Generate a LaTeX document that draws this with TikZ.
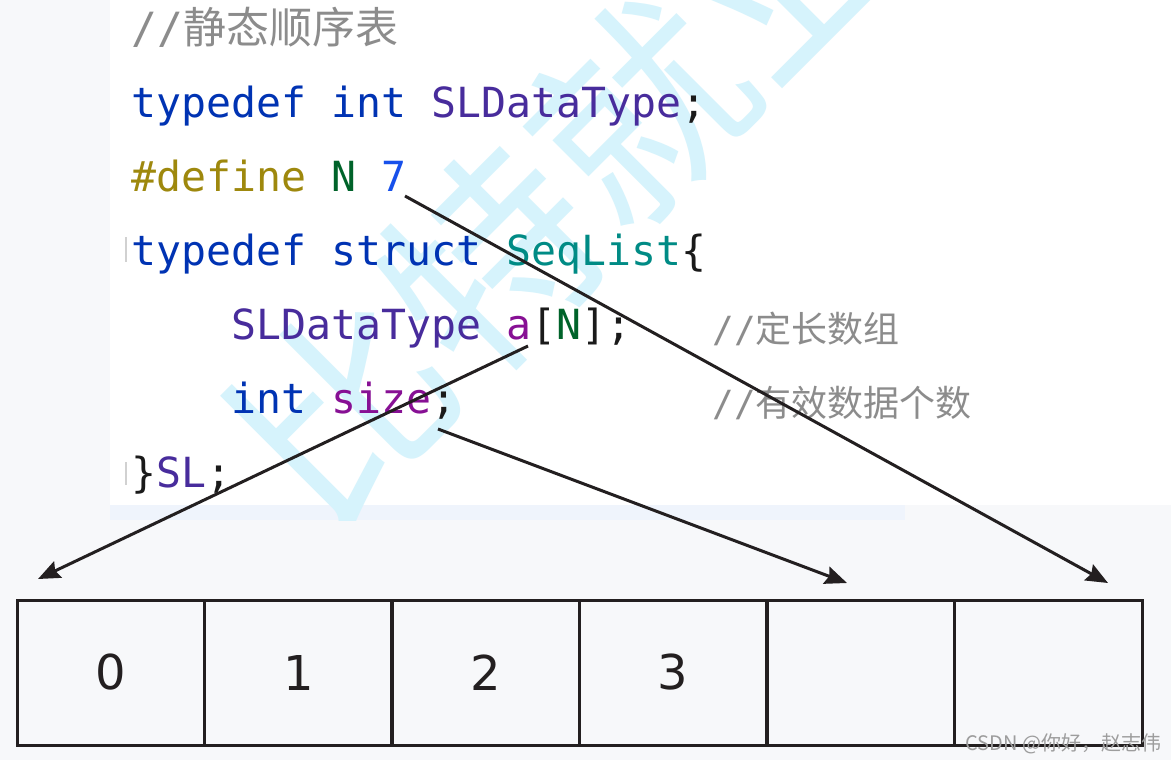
\documentclass[tikz,border=0pt]{standalone}
\usepackage{fontspec}
\setmainfont{DejaVu Sans}
\newfontfamily\codefont{DejaVu Sans Mono}
\newfontfamily\cjkfont{Noto Sans CJK SC}
\usetikzlibrary{arrows.meta}
\definecolor{kwblue}{HTML}{0033B3}
\definecolor{typepurple}{HTML}{482C9C}
\definecolor{macrogold}{HTML}{9E880D}
\definecolor{macrogreen}{HTML}{00632A}
\definecolor{numblue}{HTML}{1750EB}
\definecolor{seqteal}{HTML}{008B85}
\definecolor{fieldmag}{HTML}{871094}
\definecolor{cmtgray}{HTML}{8C8C8C}
\definecolor{wmblue}{HTML}{D6F3FC}
\definecolor{bggray}{HTML}{F7F8FA}
\definecolor{stripblue}{HTML}{EFF4FC}
\definecolor{ink}{HTML}{231F20}
\definecolor{codeblack}{HTML}{1A1A1A}
\tikzset{
  codeline/.style={anchor=base west, inner sep=0pt, text=codeblack,
    font=\codefont\fontsize{20.75pt}{24pt}\selectfont},
  topcmt/.style={anchor=base west, inner sep=0pt, text=cmtgray,
    font=\codefont\fontsize{21.5pt}{24pt}\selectfont},
  sidecmt/.style={anchor=base west, inner sep=0pt, text=cmtgray,
    font=\codefont\fontsize{18pt}{22pt}\selectfont},
  cell/.style={draw=ink, line width=1.5pt, minimum width=93.75pt, minimum height=72.5pt,
    inner sep=0pt, text=ink, font=\fontsize{24pt}{24pt}\selectfont},
  pointer/.style={draw=ink, line width=1.5pt, -{Stealth[length=11pt,width=9pt,inset=1.5pt]}},
}
\begin{document}
\begin{tikzpicture}[x=0.5pt,y=-0.5pt]
\useasboundingbox (0,0) rectangle (1171,760);
% backgrounds
\fill[bggray] (0,0) rectangle (1171,760);
\fill[white] (110,0) rectangle (1171,505);
\fill[stripblue] (110,505) rectangle (905,520);
\draw[cmtgray!40, line width=1pt] (126,237) -- (126,262);
\draw[cmtgray!40, line width=1pt] (126,462) -- (126,485);
% watermark
\begin{scope}
\clip (110,0) rectangle (1171,520);
\node[rotate=45, text=wmblue, inner sep=0pt,
  font=\cjkfont\fontsize{105pt}{105pt}\selectfont] (wm) at (565,185) {比特就业};
\end{scope}
% code
\node[topcmt] (l1) at (131,43) {//{\cjkfont 静态顺序表}};
\node[codeline] (l2) at (131,117) {\textcolor{kwblue}{typedef int} \textcolor{typepurple}{SLDataType};};
\node[codeline] (l3) at (131,191) {\textcolor{macrogold}{\#define} \textcolor{macrogreen}{N} \textcolor{numblue}{7}};
\node[codeline] (l4) at (131,265) {\textcolor{kwblue}{typedef struct} \textcolor{seqteal}{SeqList}\{};
\node[codeline] (l5) at (231,339) {\textcolor{typepurple}{SLDataType} \textcolor{fieldmag}{a}[\textcolor{macrogreen}{N}];};
\node[codeline] (l6) at (231,413) {\textcolor{kwblue}{int} \textcolor{fieldmag}{size};};
\node[codeline] (l7) at (131,487) {\}\textcolor{typepurple}{SL};};
\node[sidecmt] (c5) at (712,342) {//{\cjkfont 定长数组}};
\node[sidecmt] (c6) at (712,416) {//{\cjkfont 有效数据个数}};
% cells
\node[cell] (k0) at (111,672.5) {\raisebox{-2.5pt}{0}};
\node[cell] (k1) at (298.5,672.5) {\raisebox{-2.5pt}{1}};
\node[cell] (k2) at (485.5,672.5) {\raisebox{-2.5pt}{2}};
\node[cell] (k3) at (673,672.5) {\raisebox{-2.5pt}{3}};
\node[cell] (k4) at (861,672.5) {};
\node[cell] (k5) at (1048.5,672.5) {};
% connectors
\coordinate (fromA) at (528,346);
\coordinate (fromSize) at (438,429);
\coordinate (fromN) at (405,196);
\coordinate (toA) at (38,579);
\coordinate (toSize) at (847,583);
\coordinate (toN) at (1108,583);
\draw[pointer] (fromA) -- (toA);
\draw[pointer] (fromSize) -- (toSize);
\draw[pointer] (fromN) -- (toN);
% site mark
\node[anchor=base west, inner sep=0pt, text=cmtgray!85,
  font=\cjkfont\fontsize{10pt}{12pt}\selectfont] (mark) at (965,750) {CSDN @你好，赵志伟};
\end{tikzpicture}
\end{document}
